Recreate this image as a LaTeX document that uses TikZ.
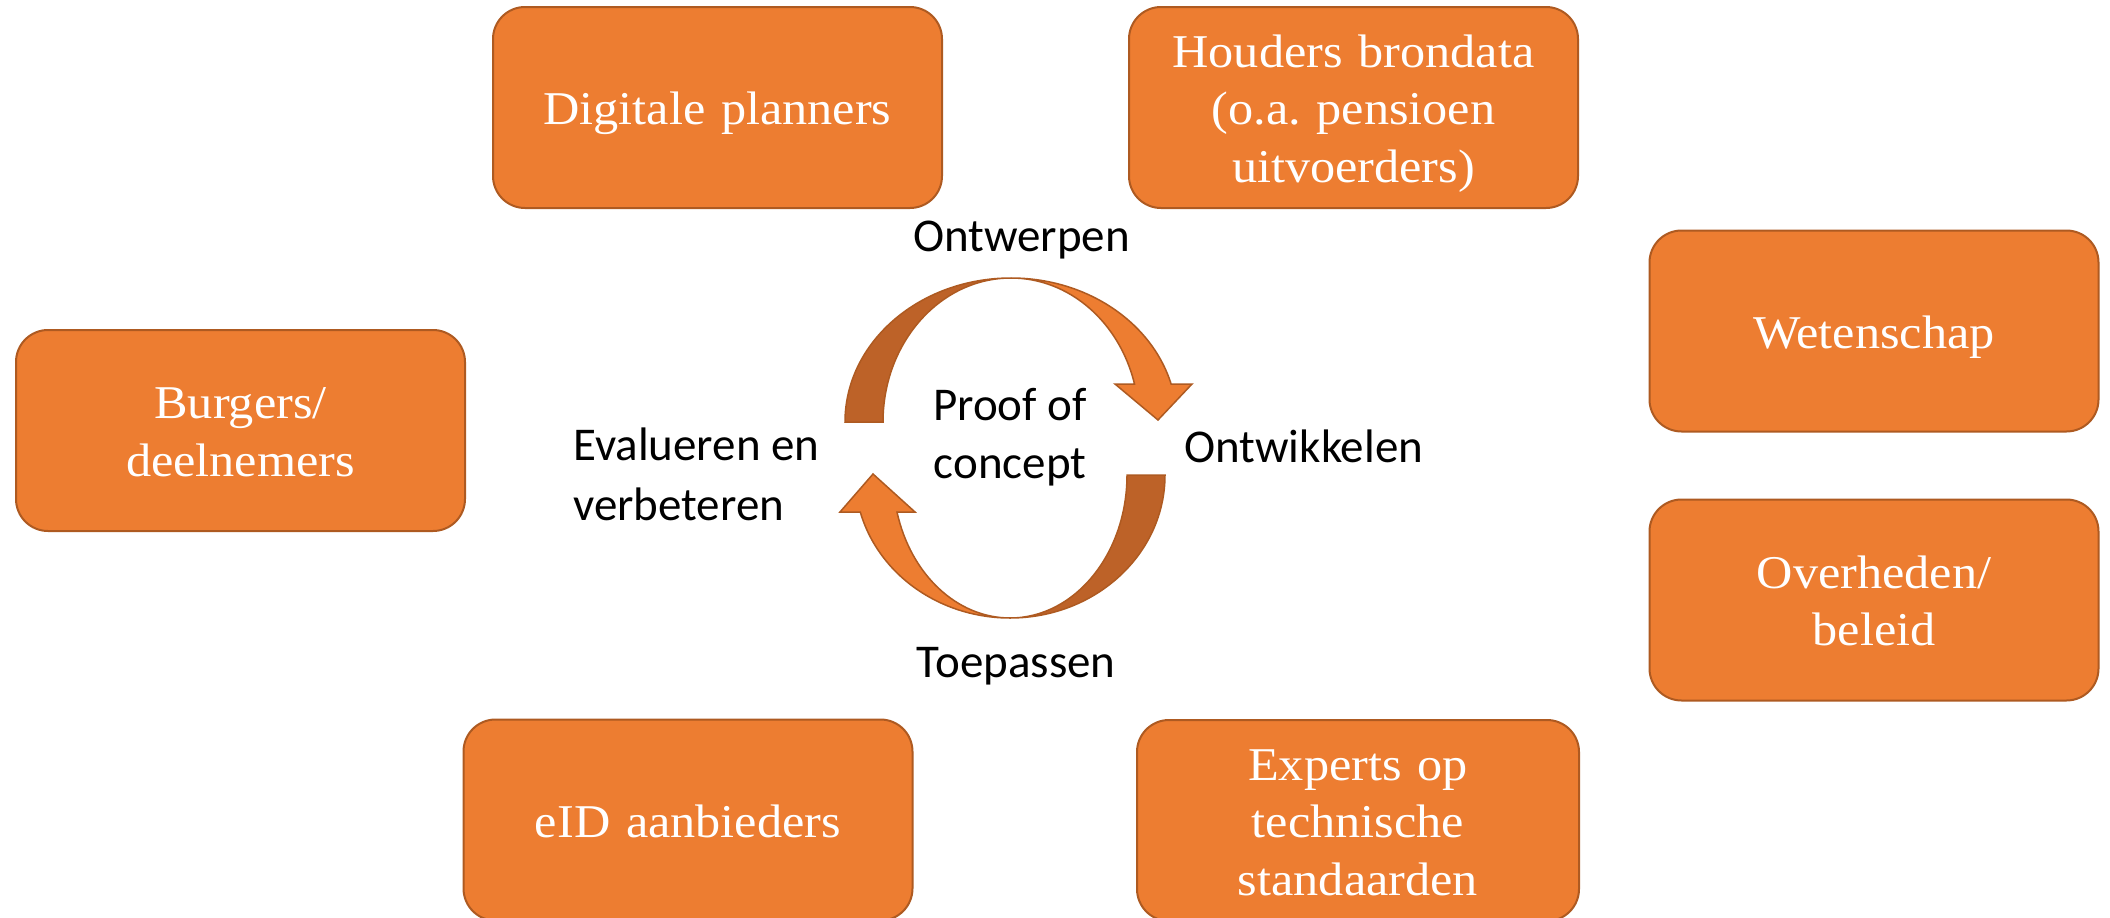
\documentclass[tikz,border=0pt]{standalone}
\usepackage{fontspec}
\newfontfamily\boxfont[FakeStretch=1.07]{Liberation Serif}
\newfontfamily\lblfont{Carlito}
\definecolor{orangeA}{HTML}{ED7D31}
\definecolor{orangeD}{HTML}{BD6228}
\definecolor{edgeC}{HTML}{AE5A21}
\frenchspacing
\begin{document}
\begin{tikzpicture}[x=1pt,y=-1pt,
  pbox/.style={draw=edgeC, line width=2pt, fill=orangeA, rounded corners=32pt,
    minimum width=449pt, minimum height=201pt, inner sep=0pt, text=white,
    align=center, text width=430pt,
    font=\boxfont\fontsize{47}{57.5}\selectfont,
    execute at begin node={\rule{0pt}{46pt}},
    execute at end node={\rule[-12pt]{0pt}{12pt}}},
  lbl/.style={inner sep=0pt, text=black,
    font=\lblfont\fontsize{47}{58}\selectfont,
    execute at begin node={\rule{0pt}{36pt}},
    execute at end node={\rule[-12pt]{0pt}{12pt}}},
  arr/.style={draw=edgeC, line width=1.5pt, line join=miter}]
\fill[white] (0,0) rectangle (2110,918);
\useasboundingbox (0,0) rectangle (2110,918);

% boxes
\node[pbox] (digi) at (717.5,107.5) {Digitale planners};
\node[pbox] (houd) at (1353.5,107.5) {Houders brondata\\(o.a. pensioen\\uitvoerders)};
\node[pbox] (wet) at (1874,331) {Wetenschap};
\node[pbox] (over) at (1874,600) {Overheden/\\beleid};
\node[pbox] (burg) at (240.5,430.5) {Burgers/\\deelnemers};
\node[pbox] (eid) at (688,820) {eID aanbieders};
\node[pbox, minimum width=442pt] (exp) at (1358,820.5) {Experts op\\technische\\standaarden};

% cycle arrows: top
\draw[arr, fill=orangeD] (845,422)
  arc[start angle=180, end angle=270, x radius=166, y radius=144]
  arc[start angle=270, end angle=180, x radius=128, y radius=144] -- cycle;
\draw[arr, fill=orangeA] (1011,278)
  arc[start angle=270, end angle=344.7, x radius=166, y radius=144]
  -- (1192,384) -- (1158,420) -- (1115,384) -- (1134.5,384)
  arc[start angle=344.7, end angle=270, x radius=128, y radius=144] -- cycle;
% bottom
\draw[arr, fill=orangeD] (1165,475)
  arc[start angle=0, end angle=90, x radius=155, y radius=143]
  arc[start angle=90, end angle=0, x radius=117, y radius=143] -- cycle;
\draw[arr, fill=orangeA] (1010,618)
  arc[start angle=90, end angle=165, x radius=155, y radius=143]
  -- (840,512) -- (873,474) -- (915,512) -- (897,512)
  arc[start angle=165, end angle=90, x radius=117, y radius=143] -- cycle;

% labels
\node[lbl, align=center] (poc) at (1010,439.5) {Proof of\\concept};
\node[lbl] (ontw) at (1021.5,239) {Ontwerpen};
\node[lbl, anchor=west] (ontk) at (1184,450) {Ontwikkelen};
\node[lbl] (toep) at (1016,665) {Toepassen};
\node[lbl, align=left, anchor=west, font=\lblfont\fontsize{47}{60}\selectfont] (eval) at (573,480) {Evalueren en\\verbeteren};
\end{tikzpicture}
\end{document}
